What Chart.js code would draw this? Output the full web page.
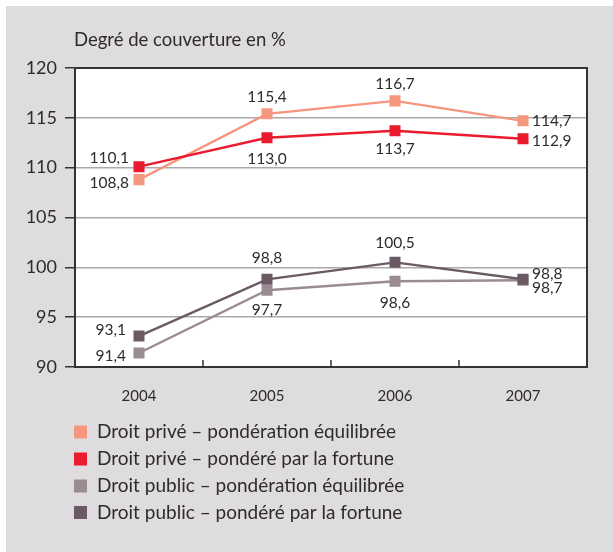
<!DOCTYPE html>
<html>
<head>
<meta charset="utf-8">
<script src="https://cdn.jsdelivr.net/npm/chart.js@4.4.1/dist/chart.umd.min.js"></script>
<style>
  html, body { margin: 0; padding: 0; background: #ffffff; }
  #wrap { width: 613px; height: 552px; position: relative; }
</style>
</head>
<body>
<div id="wrap"><canvas id="c" width="613" height="552"></canvas></div>
<script>
// ---- data ----
const years = ['2004', '2005', '2006', '2007'];
const seriesNames = [
  'Droit privé – pondération équilibrée',
  'Droit privé – pondéré par la fortune',
  'Droit public – pondération équilibrée',
  'Droit public – pondéré par la fortune'
];
const priveEquilibree = [108.8, 115.4, 116.7, 114.7];
const priveFortune = [110.1, 113.0, 113.7, 112.9];
const publicEquilibree = [91.4, 97.7, 98.6, 98.7];
const publicFortune = [93.1, 98.8, 100.5, 98.8];
const yTicks = [90, 95, 100, 105, 110, 115, 120];
const yTitle = 'Degré de couverture en %';

// ---- styles ----
const colors = ['#f5977e', '#ea1b2e', '#9a8c93', '#6b5a64'];
const FONT = 'Lato, "Open Sans", sans-serif';
const TEXT = '#2e2b2d';
const BG = '#dfdcdf';

// label placement per series per point: [dx, dy, align]
const labelPos = [
  [[-10, 3, 'right'], [0, -17, 'center'], [0, -17, 'center'], [9, 0, 'left']],
  [[-10, -9, 'right'], [0, 21, 'center'], [0, 18, 'center'], [9, 2, 'left']],
  [[-13, 3, 'right'], [0, 20, 'center'], [0, 22, 'center'], [9, 8, 'left']],
  [[-13, -6, 'right'], [0, -21, 'center'], [0, -19, 'center'], [9, -5, 'left']]
];

const fmt = v => v.toFixed(1).replace('.', ',');

const bgPlugin = {
  id: 'bg',
  beforeDraw(chart) {
    const { ctx, chartArea: a } = chart;
    ctx.save();
    ctx.fillStyle = '#ffffff';
    ctx.fillRect(0, 0, chart.width, chart.height);
    ctx.fillStyle = BG;
    ctx.fillRect(6, 6, chart.width - 6, chart.height - 6);
    ctx.fillStyle = '#ffffff';
    ctx.fillRect(a.left, a.top, a.right - a.left, a.bottom - a.top);
    // title
    ctx.fillStyle = TEXT;
    ctx.font = '18.5px ' + FONT;
    ctx.textAlign = 'left';
    ctx.textBaseline = 'middle';
    ctx.fillText(yTitle, 74, 40);
    ctx.restore();
  },
  beforeDatasetsDraw(chart) {
    const { ctx, chartArea: a, scales } = chart;
    ctx.save();
    ctx.strokeStyle = '#333333';
    ctx.lineWidth = 2;
    ctx.strokeRect(a.left, a.top, a.right - a.left, a.bottom - a.top);
    // inner tick marks between categories
    const xs = scales.x;
    ctx.lineWidth = 1.5;
    for (let i = 0; i < years.length - 1; i++) {
      const x = (xs.getPixelForValue(i) + xs.getPixelForValue(i + 1)) / 2;
      ctx.beginPath();
      ctx.moveTo(x, a.bottom);
      ctx.lineTo(x, a.bottom - 7);
      ctx.stroke();
    }
    ctx.restore();
  },
  afterDatasetsDraw(chart) {
    const { ctx } = chart;
    ctx.save();
    ctx.fillStyle = TEXT;
    ctx.font = '15.5px ' + FONT;
    ctx.textBaseline = 'middle';
    chart.data.datasets.forEach((ds, di) => {
      const meta = chart.getDatasetMeta(di);
      meta.data.forEach((pt, i) => {
        const [dx, dy, al] = labelPos[di][i];
        ctx.textAlign = al;
        ctx.fillText(fmt(ds.data[i]), pt.x + dx, pt.y + dy);
      });
    });
    // legend
    const rows = [432, 459, 486, 512.5];
    ctx.font = '19px ' + FONT;
    ctx.textAlign = 'left';
    seriesNames.forEach((n, i) => {
      ctx.fillStyle = colors[i];
      ctx.fillRect(74, rows[i] - 6.5, 13, 13);
      ctx.fillStyle = TEXT;
      ctx.fillText(n, 97, rows[i]);
    });
    ctx.restore();
  }
};

const mk = (data, i, order) => ({
  label: seriesNames[i],
  data,
  borderColor: colors[i],
  backgroundColor: colors[i],
  borderWidth: 2.4,
  pointStyle: 'rect',
  pointRadius: 7.8,
  pointHoverRadius: 7.8,
  pointBorderWidth: 0,
  pointBackgroundColor: colors[i],
  tension: 0,
  order
});

new Chart(document.getElementById('c'), {
  type: 'line',
  data: {
    labels: years,
    datasets: [
      mk(priveEquilibree, 0, 2),
      mk(priveFortune, 1, 1),
      mk(publicEquilibree, 2, 4),
      mk(publicFortune, 3, 3)
    ]
  },
  plugins: [bgPlugin],
  options: {
    responsive: false,
    animation: false,
    devicePixelRatio: 1,
    layout: { padding: { left: 0, top: 68, right: 26, bottom: 0 } },
    plugins: { legend: { display: false }, tooltip: { enabled: false } },
    scales: {
      x: {
        offset: true,
        grid: { display: false },
        border: { display: false },
        ticks: { color: TEXT, font: { family: FONT, size: 15 }, padding: 12 },
        afterFit(s) { s.height = 185; }
      },
      y: {
        min: 90, max: 120,
        afterBuildTicks(s) { s.ticks = yTicks.map(v => ({ value: v })); },
        grid: {
          color: c => (c.tick && (c.tick.value === 90 || c.tick.value === 120)) ? 'rgba(0,0,0,0)' : '#a9a9a9',
          lineWidth: 1.5,
          tickColor: '#333333',
          tickLength: 10,
          drawTicks: true
        },
        border: { display: false },
        ticks: { color: TEXT, font: { family: FONT, size: 18 }, padding: 8 },
        afterFit(s) { s.width = 75; }
      }
    }
  }
});
</script>
</body>
</html>
